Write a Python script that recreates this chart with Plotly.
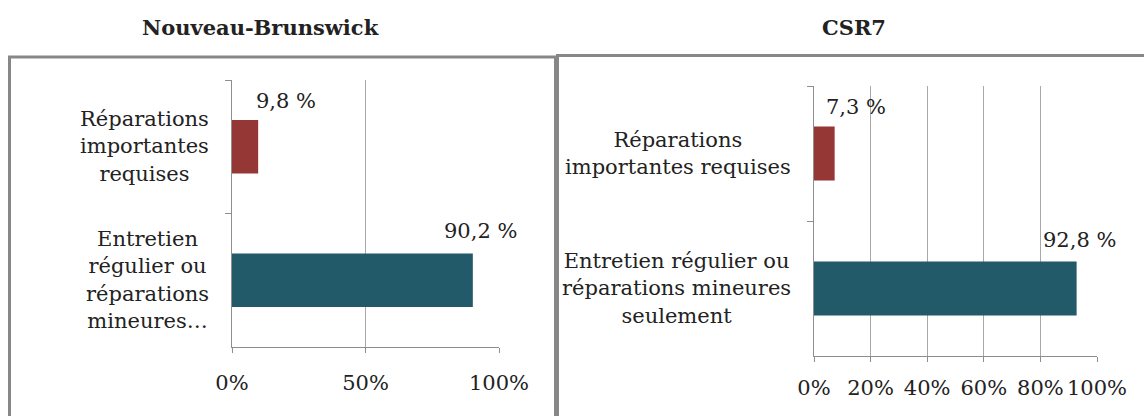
import plotly.graph_objects as go

# ---- data ----
panel_titles = ["Nouveau-Brunswick", "CSR7"]
categories_nb = ["Réparations<br>importantes<br>requises",
                 "Entretien<br>régulier ou<br>réparations<br>mineures…"]
categories_csr = ["Réparations<br>importantes requises",
                  "Entretien régulier ou<br>réparations mineures<br>seulement"]
values_nb = [9.8, 90.2]
values_csr = [7.3, 92.8]
bar_colors = ["#953735", "#235a69"]
ticks_nb = [0, 50, 100]
ticks_csr = [0, 20, 40, 60, 80, 100]

W, H = 1144, 416
FONT = "DejaVu Serif"
TXT = "#222222"
GRID = "#a8a8a8"
AXL = "#8e8e8e"


def px(x):
    return x / W


def py(y):
    return 1 - y / H


fig = go.Figure()

cats = [categories_nb, categories_csr]
vals = [values_nb, values_csr]
ticks = [ticks_nb, ticks_csr]
xdom = [(232, 499), (814, 1097)]
ydom = [(80, 347), (86, 356)]
standoff = [12, 8]
lab_shift = [[(28, 46), (8, 49)], [(21, 46), (3, 49)]]
title_x = [260, 854]

for i in range(2):
    xa = "x" if i == 0 else "x2"
    ya = "y" if i == 0 else "y2"
    fig.add_trace(go.Bar(
        x=vals[i], y=cats[i], orientation="h",
        marker=dict(color=bar_colors, line=dict(width=0)),
        xaxis=xa, yaxis=ya, showlegend=False, hoverinfo="skip",
    ))
    axx = dict(
        domain=[px(xdom[i][0]), px(xdom[i][1])], range=[0, 100],
        tickvals=ticks[i], ticktext=[f"{t}%" for t in ticks[i]],
        tickangle=0, automargin=False,
        showgrid=True, gridcolor=GRID, gridwidth=1, zeroline=False,
        showline=True, linecolor=AXL, linewidth=1,
        ticks="outside", ticklen=5, tickcolor=AXL,
        tickfont=dict(family=FONT, size=21, color=TXT),
        ticklabelstandoff=standoff[i],
        anchor=ya, fixedrange=True,
    )
    axy = dict(
        domain=[py(ydom[i][1]), py(ydom[i][0])],
        type="category", categoryorder="array", categoryarray=cats[i],
        autorange="reversed", automargin=False,
        showline=True, linecolor=AXL, linewidth=1,
        ticks="outside", tickson="boundaries", ticklen=6, tickcolor=AXL,
        showticklabels=False, showgrid=False, zeroline=False,
        anchor=xa, fixedrange=True,
    )
    if i == 0:
        fig.update_layout(xaxis=axx, yaxis=axy)
    else:
        fig.update_layout(xaxis2=axx, yaxis2=axy)

    # category labels (centered multi-line)
    for c in cats[i]:
        fig.add_annotation(
            x=px(xdom[i][0] - 21), xref="paper", y=c, yref=ya,
            text=c, showarrow=False, xanchor="right", yanchor="middle",
            align="center", font=dict(family=FONT, size=21, color=TXT),
        )
    # data labels
    for j, (c, v) in enumerate(zip(cats[i], vals[i])):
        fig.add_annotation(
            x=v, xref=xa, y=c, yref=ya,
            text=f"{v:.1f}".replace(".", ",") + " %",
            showarrow=False, xanchor="center", yanchor="middle",
            xshift=lab_shift[i][j][0], yshift=lab_shift[i][j][1],
            font=dict(family=FONT, size=21, color=TXT),
        )
    # panel title
    fig.add_annotation(
        x=px(title_x[i]), xref="paper", y=py(28), yref="paper",
        text=f"<b>{panel_titles[i]}</b>", showarrow=False,
        xanchor="center", yanchor="middle",
        font=dict(family=FONT, size=21, color=TXT),
    )

# panel frames
fig.add_shape(type="rect", xref="paper", yref="paper",
              x0=px(9.5), x1=px(555.5), y0=py(440), y1=py(57),
              line=dict(color="#878787", width=3), layer="below")
fig.add_shape(type="rect", xref="paper", yref="paper",
              x0=px(557.5), x1=px(1170), y0=py(440), y1=py(55.5),
              line=dict(color="#878787", width=3), layer="below")

fig.update_layout(
    width=W, height=H, margin=dict(l=0, r=0, t=0, b=0, autoexpand=False),
    paper_bgcolor="white", plot_bgcolor="rgba(0,0,0,0)",
    bargap=0.6, showlegend=False,
)

fig.write_html(
    "out.html",
    config={"displayModeBar": False, "staticPlot": True},
    post_script="document.body.style.margin='0';document.body.style.overflow='hidden';",
)
